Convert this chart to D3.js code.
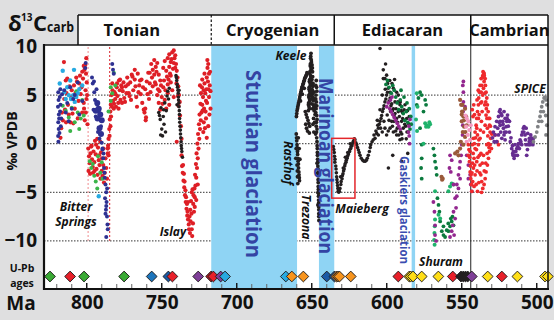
<!DOCTYPE html>
<html><head><meta charset="utf-8">
<script src="https://cdn.jsdelivr.net/npm/d3@7"></script>
<style>
html,body{margin:0;padding:0;background:#dfdfe0;}
svg{display:block;font-family:"Open Sans",sans-serif;}
</style></head><body>
<svg id="chart" width="554" height="325"></svg>
<script>
// ---- Periods, glaciations and axis ticks ----
const periodNames = ["Tonian", "Cryogenian", "Ediacaran", "Cambrian"];
const periodStarts = [823, 717, 635, 544];
const periodEnds = [717, 635, 544, 492.5];
const glaciationNames = ["Sturtian glaciation", "Marinoan glaciation", "Gaskiers glaciation"];
const glaciationStarts = [717, 645.2, 583.4];
const glaciationEnds = [659.8, 635, 581.1];
const ageTicks = [800, 750, 700, 650, 600, 550, 500];
const deltaTicks = [10, 5, 0, -5, -10];
const bitterSpringsBounds = [799.1, 784.7];

// ---- δ13C compilations: [age Ma, δ13C ‰] ----
const tonianNavy = [[819,5.3],[818.8,4.5],[819.2,3.8],[818.6,3],[819,2.2],[818.7,1.5],[819.1,0.8],[818.9,0.2],[818,4.8],[817.5,4],[817.8,3.3],[817,2.6],[817.3,1.8],[816.5,5.1],
[815,5.5],[813,4.2],[811,5.8],[810,3.6],[808,5],[806,6.3],[805,3],[803,4.4],[801,7.8],[800.7,8.3],[814,3.2],[812,2.3],[809,4.6],
[796,6.2],[795,5.3],[794.5,4.5],[795.5,3.5],[794,2.8],[793,4],[792,3.3],[791,2.5],[790.5,1.8],[792.5,1.2],[791.5,0.5],[790,0.1],[789.5,-0.6],[793.5,5.6],[796.5,6.8],[795.2,6.4],
[789.5,-0.5],[789,-1.5],[788.5,-2.5],[788,-3.5],[787.5,-4.2],[787,-5],[786.8,-6],[787.2,-6.8],[786.5,-7.5],[786.2,-8.3],[786,-8.8],[787.5,-7.2],[787,-9.6],
[783,8.2],[782.5,7.6],[782,7.2],[818.4,2.6],[818.2,1.1],[817.6,5.6],[788.8,-1],[788.2,-3],[787.8,-5.6],[787,-6.4],[786.4,-4.6]];
const tonianNavyLarge = [[793,4.2],[792,3.6],[791,3],[790,2.4],[791.5,1.6],[790.5,1],[792.8,2.6],[794,3.4]];
const tonianCyan = [[818,6.2],[815,5.3],[813,5.8],[811,6.5],[809,5],[807,4.8],[805,5.6],[803,6],[808,4.3],[810.5,4.6],[816,7.5],[814,4.6],[808.5,7.6],[812,5],[806,5.2],[792,-5.4]];
const tonianGreen = [[814,3.4],[812,2.7],[810,3.7],[808,2.2],[806,3.2],[804,2.6],[805,1.5],[811,1.3],[803,4.5],[807,5.4],[798,-1.8],[797,-2.5],[796,-2.1],[795,-3.3],[794,-3.9],[793,-4.6],[791,-3],[789.5,-3.6],[792.5,-1.3],[790,-1.9],[784,4.4],[783,5.2],[782,7.3],[781,6],[784,5.8],[785.5,3.3],[816,3.9],[802,2.9]];
const tonianRed = [
[815,4.6],[814.5,3.5],[813.5,5.2],[812.5,4],[811.5,5.9],[810.5,4.8],[809.5,3.1],[808.5,6],[807.5,5.2],[806.5,6.4],[805.5,4.4],[804.5,7],[803.5,5.8],[802.5,6.7],[801.5,7.6],[801,8.1],[800.5,7.2],[800,6.3],[802,4.2],[803,3.2],[806,2.6],[809,2.1],[812,3],[804,5.1],[800.8,5.5],[800.2,4.6],[801.8,3.6],[817,1.6],[816,2.4],[815.2,8.4],[814,6.5],[813,6.7],
[810,5.5],[807,6.8],[805,6.2],[803,7.4],[802,8],[800.3,8.8],[800.6,3.2],[801.3,2.4],[799.8,5],[799.5,2],[808,3.6],[811,2.2],[813.8,2.2],[816.5,3.2],[817.5,0.6],
[799,-0.5],[798.5,-1.3],[798,-2],[797.5,-1],[797,-0.3],[796.5,-1.6],[796,-2.4],[795.5,-0.8],[795,-1.9],[794.5,0.3],[794,-1.1],[793.5,-2.6],[793,0.5],[792.5,-0.4],[792,-1.7],[791.5,-2.2],[791,0.2],[790.5,-0.9],[790,-2.8],[789.5,-3.3],[789,-2.2],[788.5,-4],[788,-3],[787.5,-1.5],[787,-2.5],[786.5,-3.6],[786,-0.5],[785.5,-1.2],
[798.8,-2.8],[797.8,-3.1],[796.8,-0.2],[795.8,-3],[794.8,-2.8],[793.8,-0.1],[792.8,-3.2],[791.8,-1.2],[790.8,-3.6],[789.8,-1.5],[788.8,-0.5],
[785.5,0.5],[785,1.5],[784.6,2.5],[784.3,3.3],[784,4],[783.5,5],[783,6.2],[782.5,4.4],[782,3.6],[781.5,5.3],[781,4.6],[780.5,3.8],[780,5.8],[779.5,4.9],[779,4.2],[778.5,6.5],[778,5.5],[777.5,4.5],[786,-1],[785.8,-0.2],
[784.8,0.8],[784.2,1.8],[783.8,2.8],[783.2,3.8],[782.8,5.5],[781.8,4.1],[780.8,5.1],[779.8,6.2],[778.8,3.6],[777.8,6.6],[776.5,4.2],
[777,6],[776,5.4],[775,4.7],[774,5.9],[773,6.8],[772,5.2],[771,6.3],[770,7.1],[769,5.5],[768,6.6],[767,4.8],[766,7.2],[765,6],[764,5.1],[763,4.2],[762,3.5],[761,5.6],[760,6.4],[759,7.3],[758,6.2],[757.5,5.3],[774.5,4.3],[770.5,4.5],[766.5,3.8],[763.5,6.6],[760.5,2.7],[761.5,3.2],[768,7.6],[761,3.6],[760.7,2.4],
[776.5,5.8],[775.5,6.3],[773.5,5.2],[772.5,6.1],[771.5,4.9],[769.5,6.9],[767.5,5.9],[765.5,5.3],[764.5,6.5],[762.5,5.8],[759.5,5.1],[758.5,4.6],
[758,7.3],[757,8.2],[756,7.6],[755,8.6],[754,7.9],[753,8.3],[752,7.1],[751,6.5],[756.5,6.8],[754.5,6.3],[752.5,5.6],[756,5.9],[755,7.1],[754,6.1],[753.5,7.4],[751.5,5.4],[750.5,6],
[753,5],[752,4.2],[751,3.5],[750,4.8],[749,5.8],[748,4.5],[747,3.6],[746,5.2],[745,4],[744,6.3],[743,5.5],[742,4.8],[748.5,6.5],[746.5,6.9],[749.5,4.1],[747.5,5.5],[746,6.1],
[749,7.8],[748,8.5],[747,7.5],[746,8.8],[745,9.2],[744,8.4],[743,9.4],[742,9.6],[741.5,8.8],[741,9.1],[740.5,8.2],[740,7.5],[739.5,6.8],[739,5.9],[738.5,5],[738,4.3],[744.5,7.2],[742.5,7.7],[745.5,6.6],
[745,7.9],[744,7],[743.5,8.7],[742,8.3],[741,7.8],[740.2,6.2],[739.2,4.9],[738.8,3.9],[737.8,2.9],[737.2,1.8],[736.8,0.5],
[740,0.2],[736.5,-2.3],[736,-3],[735.5,-3.8],[735,-4.5],[734.5,-5.3],[734,-6],[733.5,-6.7],[733,-7.4],[732.5,-7.8],[732,-8.3],[731.5,-7.5],[731,-6.8],[730.5,-5.9],[730,-5],[729.5,-4.7],[729,-6.2],[728.5,-7],[728,-5.5],[727.5,-4.3],[729.7,-9.5],[730,-8.8],[732.5,-6],
[736.8,-1.2],[735.8,-2.2],[735.2,-3.1],[734.8,-3.9],[734.2,-4.8],[733.8,-5.5],[733.2,-6.2],[732.8,-7],[731.8,-8.8],[731.2,-9.2],[730.8,-8],[730.2,-7.2],[729.2,-8.2],[728.8,-5.3],[728.2,-4.6],
[727,-3.5],[726.5,-2.5],[726,-1.5],[725.5,-0.5],[725,0.5],[724.5,1.5],[724,2.4],[723.5,3.2],[723,4],[722.5,4.8],[722,5.5],[721.5,6.2],[721,5.2],[720.5,4.4],[720,6.8],[719.5,7.8],[719,8.2],[718.5,7.2],[718,6],[717.5,5.4],[721.8,3.6],[722.3,1.2],[726,-4.2],[720.5,2.6],[718.5,4.8],[724.5,6],[723,6.6],[717.5,3.6],[719,1.8],[720,0.6],[728,-6.5],[727,-5.8],
[727.8,-3.2],[727.2,-2.1],[726.8,-1],[726.2,0],[725.8,1],[725.2,2],[724.8,3],[724.2,4.1],[723.8,5.2],[723.2,5.8],[722.8,3.4],[722,2.2],[721.2,1.6],[720.8,3.3],[720.2,5.6],[719.8,4.2],[719.2,6.4],[718.8,5.6],[718.2,3],[717.8,7.4],[719.6,8.6],[721.5,7.2]];
const tonianBlack = [[752,3.2],[751,2.5],[750.5,3.7],[750,1.5],[749.5,0.8],[749,2.8],[748,4.2],[747,3.4],[746,5.4],[745.5,4.6],[745,5.7],[748.5,2],[747.5,1.2],[750.7,0.9],
[740.5,7],[740,6.5],[739.5,5.8],[739,5.2],[738.8,4.5],[738.5,3.8],[738.2,3],[738,2.2],[737.6,1.4],[737.3,0.6],[737,-0.2],[736.6,-0.8],[736.2,-1.4],[739.8,4],[738.5,5.5],
[740.2,6.8],[739.7,6.1],[739.2,5.5],[738.9,4.8],[738.6,4.2],[738.3,3.4],[738.1,2.6],[737.8,1.8],[737.5,1],[737.1,0.2],[736.8,-0.5],[748.8,3.5],[746.5,4.9],[751.5,2.9]];
const cryogenianBlack = [
[650.5,9.3],[650.8,8.8],[650.2,8.4],[651,8],[650.4,7.6],[651.3,7.2],[650.6,6.8],[651.6,6.4],[650.9,6],[651.8,5.6],[651.1,5.2],[652,4.8],[651.4,4.4],[652.2,4],[651.6,3.6],[649.8,8.1],[649.5,7.4],[649.9,6.6],[649.3,5.9],[649.7,5.1],[649,4.4],[648.7,3.7],[650.2,4.9],[650,5.6],[648.5,5.3],[648,4.6],[648.2,3.8],[647.8,3],[648.8,2.6],[647.6,2.2],
[650.7,9],[650.3,8.6],[650.9,8.2],[650.5,7.8],[651.2,7.4],[650.8,7],[651.4,6.6],[651,6.2],[651.7,5.8],[651.3,5.4],[651.9,5],[651.5,4.6],[652.1,4.2],[651.8,3.8],[652.3,3.4],[649.6,7.8],[649.4,6.9],[649.1,6.2],[649.6,5.5],[649.2,4.8],[648.9,4],[648.4,3.4],[650.4,6.3],[650.1,5.3],[649.8,4.6],[650.3,4.1],[649.4,3.6],
[659.8,3.4],[659.3,3.8],[658.8,4.2],[658.2,4.6],[657.7,5],[657.1,5.4],[656.5,5.8],[655.9,6.1],[655.3,6.4],[654.7,6.7],[654.1,6.9],[653.5,7.1],[657.5,4.4],[656.3,5.1],[655,5.7],
[659.5,3.6],[659,4],[658.5,4.4],[658,4.8],[657.4,5.2],[656.8,5.6],[656.2,5.9],[655.6,6.2],[655,6.5],[654.4,6.8],[653.8,7],[653.2,7.3],[660,3.1],[660.2,2.8],
[654.3,3.3],[653.7,3],[653.1,2.7],[652.5,2.4],[651.9,2.1],[651.4,1.8],[653.5,1.6],[652.8,1.3],[654,2],[651.6,1.1],
[660.3,1],[660,0.3],[659.7,-0.4],[659.4,-1.1],[659.1,-1.8],[658.8,-2.5],[658.5,-3.2],[658.2,-3.8],[659,0.6],[658.4,-0.5],[657.9,-1.6],[659.6,-2.8],[659.3,-4.1],
[660.1,0.6],[659.8,-0.1],[659.5,-0.8],[659.2,-1.5],[658.9,-2.1],[658.6,-2.9],[658.3,-3.5],[660.4,-0.5],[660.6,-1.5],[659.8,-2.2],[659.5,-3.4],
[647,6.5],[646.8,5.8],[647.2,5],[646.9,4.3],[647.1,3.6],[646.7,2.9],[646.9,2.2],[646.5,1.5],[647.4,1],[649.2,2],[648.6,1.2],
[647.3,6],[646.6,5.4],[647.3,4.6],[646.6,3.9],[647.3,3.2],[646.5,2.5],[647,1.8],[647.6,4],[648.1,2.2],
[646.5,0.2],[646.3,-0.5],[646.2,-1.2],[646,-1.9],[645.9,-2.6],[645.8,-3.3],[645.7,-4],[645.6,-4.7],[645.5,-5.4],[645.4,-6.1],[645.3,-6.8],[645.3,-7.5],[646,-3],[645.8,-5],[646.4,-2],[645.9,-6.3],
[646.4,-0.2],[646.25,-0.9],[646.1,-1.6],[645.95,-2.3],[645.85,-3],[645.75,-3.7],[645.65,-4.4],[645.55,-5.1],[645.45,-5.8],[645.35,-6.5],[645.3,-7.2],[645.2,-7.9],[646.7,0.6],[646.8,1.2]];
const ediacaranBlack = [
[635.6,-0.3],[635,-0.9],[634.5,-1.6],[634,-2.3],[633.6,-3],[633.2,-3.7],[632.8,-4.3],[632.4,-4.9],[634.8,-1.3],[633.8,-2.6],[633,-4],
[635.3,-0.6],[634.6,-1.9],[633.4,-3.4],[632.6,-4.6],[632,-5],[631.6,-4.9],
[631.2,-4.6],[630.4,-3.9],[629.6,-3.3],[628.8,-2.8],[628,-2.3],[627.2,-1.9],[626.4,-1.5],[625.6,-1.1],[624.8,-0.8],[624,-0.5],[623.2,-0.2],[622.4,0.2],[630.8,-3.4],[629,-2.5],[627.6,-1.4],[626,-0.9],[624.4,0],
[630.6,-4.2],[629.8,-3.6],[629.2,-3.1],[628.4,-2.6],[627.8,-2.1],[627,-1.7],[626.2,-1.3],[625.4,-0.9],[624.6,-0.6],[623.8,-0.3],[623,0],[622,0.3],[621.6,0.5],
[621.2,0.4],[620,-0.1],[618.9,-0.65],[617.8,-1.2],[616,-1.7],[614.3,-1.8],[613,-1.5],[611.6,-0.8],[610.7,-0.1],[609.8,0.2],
[620.6,0.1],[619.5,-0.4],[618.4,-0.9],[617,-1.5],[615.2,-1.8],[613.6,-1.7],[612.3,-1.2],[611,-0.4],[609,0.4],
[607.8,0.55],[606.7,1.06],[605.6,1.6],[604.5,2.3],[603.4,2.9],[602.3,3.6],[601.2,4.3],[600.1,5],[599,5.7],[601.2,6.7],[600.1,7.05],[602.3,7.6],[604.5,9.8],
[608.5,0.9],[607.2,1.3],[606,1.9],[605,2],[603.8,2.6],[602.8,3.3],[601.8,3.9],[600.6,4.6],[599.5,5.3],[598.4,4.4],[597.2,3.9],[596.2,3.4],[594.9,2.8],[593.8,3.6],[592.8,2.2],[591.6,2.8],[590.4,3.4],[589.4,2.6],[588.4,3.5],[587.4,1.8],[586.2,3.4],[585.2,2],
[597.8,4.7],[596.7,4.1],[595.6,3.6],[594.5,3.1],[593.4,2.6],[592.3,3.3],[591.2,4],[590.1,2.3],[589,1.6],[587.8,4],[586.7,2.6],[585.6,1.2],[598.9,-2.5],
[606.3,2.4],[604.1,1.6],[601.9,2.3],[599.7,2.95],[597.4,3.3],[595.2,2.3],[593,1.6],[590.7,1.2],[600.1,0.9],[597.8,1.6],[595.6,1.2],[593.4,0.9],[591.2,0.4],[605.6,0.9],[601.2,1.6],[596.7,2.3],[594.5,4.3],[592.3,5],[597.8,5.3],[595.6,5.7],[593.4,5.3],[602.3,6.7],
[598.5,2.4],[596.2,1.8],[594,1.3],[592,0.9],[589.8,0.5],[603,1.2],[599,1.3],[604.5,3.5],[603,5],[601,5.6],[599.4,6.2],[598,6.5],[596.5,6.2],[594.8,6.6],[592.6,4.3],[600.8,8.2],[596,-1.2],[590.2,-1.8],[586,-1],
[591,4.3],[589.5,3.2],[588,2],[586.5,1.2],[585,2.8],[590,1],[587,0.5]];
const ediacaranPurple = [[600,3.8],[599,4.2],[598,3.6],[597,3.3],[596,3.0],[595,2.7],[594,2.4],[593,2.1],[592,1.8],[591,1.5],[597.5,4.5],[596.5,4.8],[585.5,1.2],[585,0.8],[584.8,0],[585.2,1.8],[584.5,2.5]];
const ediacaranDarkGreen = [[600.5,6.1],[599.5,6.5],[598.5,5.8],[597,5.2],[596,6],[595,5.5],[594,4.8],[593,4.2],[592,3.5],[591,4.5],[590,3.8],[589,3.1],[588,2.4],[587,3.3],[586,2.2],[585,3.6],[584,2.8],[590.5,5.5],[588.5,4.8],[586.5,4.2],[584.5,1.5],[583.7,2],
[577.8,5.3],[576.7,5],[578.9,4.7],[574.4,4.5],[573.8,4],[575.5,3.3],[580,4],[577.8,1.6],[576.7,-0.1],[576.7,-1.5],[577.1,-2.5],[576.7,-3.6],[568.9,-0.5],[568.2,-1.2],[567.8,-1.85],[567.1,-2.5],[566.7,-3.2],
[566.2,-5.6],[565.5,-6.3],[564.9,-7],[564.4,-8],[563.3,-9],[562.2,-9.4],[560,-8.9],[557.8,-8.5],[556.7,-8],[558.9,-9],[561.1,-9.6],[556.2,-7.5],[557.3,-7.7],[562.2,-8.5],[555.5,-8.4],[559,-8.2]];
const ediacaranLightGreen = [[574.4,2.1],[573.3,1.9],[572.2,1.75],[571.1,2],[573.8,1.75],[571.6,2.2],[575.5,0],[567.8,-4.9],[565.5,-7.3],[564.4,-7.7],[558.9,-4.9],[557.8,-4.4],[556.7,-4.1],[555.5,-4.2],
[580,5.2],[579.5,3.8],[580.5,2.5],[579.8,1.3],[568,-8.5],[568.2,-9.2],[568.4,-9.9],[568.1,-10.4],[567.8,-7.8]];
const shuramPurple = [[568.9,-6],[568.2,-7],[567.8,-8.4],[567.8,-9.4],[567.1,-10],[557.8,-1.2],[556.7,-1.7],[558.2,-2.5],[557.3,-2.9],[555.5,-4.2],[554.4,-5.6],[555.5,-7],[556,-8.4],[555.1,-9.4],
[553.3,-4.2],[552.2,-3.2],[551.5,-2.5],[551.1,-1.85],[550.4,-1.2],[550,-0.1],[549.5,0.9],[549.3,1.9],[549.1,3.3],[548.9,4.3],[548.9,5.3],[548.9,6.4],[549.3,6],[547.8,3.8],
[546.7,-1.2],[545.6,-2.2],[544.4,-3.2],[544,-4.2],[543.3,-4.9],[545.6,-3.6],[551.1,-3.6],[553.3,-5.4],[552.2,-4.6],[554.4,-7.7],[553.8,-6.6],[556.7,-9],[557.8,-9.6]];
const ediacaranBrown = [[551.1,4.5],[550.4,4],[549.8,3.3],[548.9,2.8],[550,2.3],[548.4,1.75],[549.3,1.2],[547.8,0.7],[550.6,0.2],[548.9,-0.1],[551.1,-0.5],[552.9,-0.8],[554.4,-1],[552.2,-1.2],[547.8,3.6],[547.1,2.8],[546.7,1.9],[547.6,1.2],[563.5,-3.4],[563.1,-3.7],[562.7,-3.6],[550,3],[548.5,2.4],[549.5,4]];
const ediacaranPink = [[547.5,2.9],[546.7,2.6],[545.6,2.3],[547.1,1.75],[544.9,1.4],[546,0.9],[544.4,0.4],[546.7,0.2],[544,1.9]];
const cambrianRed = [[545.6,-1.2],[544.9,-1.85],[544.4,-2.9],[544,-3.6],[543.5,-4.2],[543.3,-4.9],[542.7,-3.9],[542.2,-2.5],[541.8,-1.5],[541.1,-0.5],[545.6,-0.1],[544.4,-0.8],[542.9,-0.1],[542.2,0.55],[541.1,1.2],[540.4,1.9],[540,2.6],[539.5,3.3],[538.9,4],[538.7,4.7],[538.2,5.3],[537.8,6],[537.1,6.7],[536,7],[535.1,7.2],
[534.4,6.7],[534.2,6],[533.8,5.3],[533.3,4.7],[532.9,4],[532.4,3.3],[532,2.6],[531.5,1.9],[531.1,1.2],[530.7,0.55],[531.1,-0.1],[531.5,-0.8],[532.2,-1.5],[532.9,-2.2],[533.8,-2.9],[534.4,-3.6],[535.1,-4.2],[536,-4.6],[536.7,-3.9],[537.3,-3.2],[537.8,-2.2],[538.2,-1.2],[538.9,-0.1],[539.5,0.9],[540,1.6],
[536.7,4.3],[536,5],[535.5,5.7],[535.1,6.4],[536.4,3.3],[536.9,2.3],[535.5,1.2],[534.4,1.9],[533.8,2.95],[534.7,4],[537.8,0.55],[540,-1.85],[541.1,-3.2],[540.4,-4.2],[539.5,-4.9],[541.8,-4.4],[535.5,-1.2],[533.3,-0.1],[538.9,2.6],[532.9,1.6],[543,3.5],[542.5,2.8],[527.8,0.9],[526.5,0.2],[525.5,-0.1],
[545.2,-0.6],[544.7,-1.4],[544.2,-2.3],[543.8,-3.2],[543.2,-3],[542.8,-2],[542.4,-1],[541.6,0],[541.4,-2.2],[540.8,0.6],[540.2,-0.6],[539.8,-2.8],[539.2,-1.4],[538.6,0.4],[538.4,3],[537.6,1.4],[537.4,4.2],[537,5.3],[536.6,6],[536.2,6.8],[535.8,7.4],[535.4,7.3],[535,7.0],[534.6,5.2],[534,4.3],[533.6,3.6],[533.2,2.6],[532.6,0.8],[532.2,0],[531.8,-0.4],[531.4,2.6],[530.9,1.8],[533.1,-1],[534,-2],[535,-2.8],[536.3,-2],[537.2,-1],[538,-3],[538.6,-4],[536.8,-5],[542,4],[541.5,3],[539,5.5],[539.8,4.5],[530.2,-0.5],[530,1]];
const cambrianPurple = [[528.9,1.2],[527.8,1.75],[526.7,2.3],[525.5,2.8],[524.9,3.3],[524.4,3.5],[523.3,2.9],[522.7,2.3],[522.2,1.6],[521.8,0.9],[521.1,0.4],[520.4,1.2],[520,2.3],[519.5,2.95],[518.9,2.4],[518.2,1.2],[517.6,0.2],[516.7,-0.5],[516,-1],[515.1,-1.5],[514.5,-1.2],[513.3,-0.5],[512.2,0],[511.1,0.4],[510,0.9],[508.9,1.6],[508.4,1.75],[507.8,0.9],[507.1,-0.1],[506.7,-1.2],[505.5,-0.1],[504.9,0.55],[504,0.9],[503.3,0.4],[502.2,0.55],
[514.5,-0.1],[515.5,-0.8],[512.9,-1.2],[511.6,-0.5],[510.6,0.2],[510,-0.1],[524.4,2.3],[524,1.2],[523.3,0.55],[525.5,0.9],[526.7,0.2],[521.1,2.6],[520.4,1.75],[518.2,2.3],[527.8,0.9],[528.4,0.2],[507.1,1.6],[506,1.06],[504.4,-0.1],[502.6,-0.1],[524.4,1.9],[521.8,3.3],
[523.8,3.1],[522.5,2],[521.5,1.2],[519.8,2.6],[519,1.8],[517.2,0.6],[516.2,-0.2],[515.8,-1.2],[514,-0.8],[512.6,-0.3],[511.4,0],[509.5,1.2],[508.6,1.2],[507.5,0.4],[506.2,-0.6],[505,0.2],[503.8,0.6],[502.8,0.2],[529.5,0.6],[526,1.6],[525,2.2]];
const cambrianGray = [[502.2,0.2],[501.1,0.7],[500,1.2],[499.3,1.75],[498.6,2.3],[497.8,2.8],[497.3,3.3],[496.7,3.8],[496,4.3],[495.1,4.7],[494.4,4.8],[493.8,4.5],[493.3,4],[494,2.9],[493.3,1.9],[493.8,0.9],[495.6,3.3],[496.7,2.3]];

// ---- U-Pb age constraints ----
const uPbAges = [824.5, 811.1, 801.8, 775.1, 756.7, 745.6, 742.9, 725.7, 717.1, 715.6, 710.7, 707.8,
  667.3, 663.3, 655.6, 640, 634.9, 633.6, 632.5, 631.5, 624,
  592.3, 585, 584, 582.5, 576.7, 565.6, 556, 550.5, 549, 547.5, 546, 543.3, 532.7, 523.3, 512.9, 494.5, 492.6];
const uPbKinds = ["green","red","green","green","blue","navy","red","purple","darkred","red","purple","cyan",
  "cyan","orange","orange","navy","navy","orange","orange","orange","orange",
  "red","yellow","yellow","yellow","yellow","yellow","red","black","black","black","black","purple","yellow","red","yellow","yellow","yellow"];

const uPbColors = {green:"#3aaa35", red:"#e8202a", darkred:"#b0181e", blue:"#1c75bc", navy:"#1b5aa6", purple:"#7f3f98",
  cyan:"#27aae1", orange:"#f7941d", yellow:"#ffde17", black:"#231f20"};

const svg = d3.select("#chart");
const W = 554, H = 325;
const pL = 44, pR = 548, pT = 45, pB = 289;

const x = d3.scaleLinear().domain([828.5, 492.5]).range([pL, pR]);
const y = d3.scaleLinear().domain([0, -10]).range([143.7, 240.9]);

// backgrounds
svg.append("rect").attr("width", W).attr("height", H).attr("fill", "#dfdfe0");
svg.append("rect").attr("x", 0).attr("y", 320).attr("width", W).attr("height", 5).attr("fill", "#fff");
svg.append("rect").attr("x", 78).attr("y", 15).attr("width", pR - 78).attr("height", pT - 15).attr("fill", "#fff");
svg.append("rect").attr("x", pL).attr("y", pT).attr("width", pR - pL).attr("height", pB - pT).attr("fill", "#fff");

// horizontal dotted reference lines
svg.append("g").selectAll("line").data(deltaTicks.filter(d => d < 10)).join("line")
  .attr("x1", pL).attr("x2", pR)
  .attr("y1", d => y(d)).attr("y2", d => y(d))
  .attr("stroke", "#333").attr("stroke-width", 1).attr("stroke-dasharray", "1.5,1.5");

// glaciation bands
const glac = glaciationNames.map((n, i) => ({name: n, a: glaciationStarts[i], b: glaciationEnds[i]}));
svg.append("g").selectAll("rect").data(glac).join("rect")
  .attr("x", d => x(d.a)).attr("width", d => x(d.b) - x(d.a))
  .attr("y", pT + 1).attr("height", pB - pT - 1)
  .attr("fill", "#8fd4f4");

// Bitter Springs bounds
svg.append("g").selectAll("line").data(bitterSpringsBounds).join("line")
  .attr("x1", d => x(d)).attr("x2", d => x(d))
  .attr("y1", pT + 2).attr("y2", y(-10))
  .attr("stroke", (d, i) => i === 0 ? "#f08a8e" : "#d9232b")
  .attr("stroke-width", 1).attr("stroke-dasharray", "2,2");

// Ediacaran / Cambrian boundary
svg.append("line").attr("x1", x(544)).attr("x2", x(544)).attr("y1", pT).attr("y2", pB)
  .attr("stroke", "#222").attr("stroke-width", 1);

// data points
const dots = svg.append("g");
function plot(data, color, r) {
  dots.append("g").selectAll("circle").data(data).join("circle")
    .attr("cx", d => x(d[0])).attr("cy", d => y(d[1])).attr("r", r).attr("fill", color);
}
plot(tonianRed, "#de1f26", 2.1);
plot(tonianGreen, "#3bb54a", 2);
plot(tonianCyan, "#27aae1", 2.2);
plot(tonianNavy, "#2e3192", 2);
plot(tonianNavyLarge, "#2e3192", 3);
plot(tonianBlack, "#231f20", 1.8);
plot(cryogenianBlack, "#231f20", 1.9);
plot(ediacaranBlack, "#231f20", 1.8);
plot(ediacaranDarkGreen, "#0b7a3e", 1.9);
plot(ediacaranPurple, "#93278f", 1.9);
plot(ediacaranLightGreen, "#20b36c", 2);
plot(shuramPurple, "#93278f", 1.9);
plot(ediacaranBrown, "#9a5a3a", 2.1);
plot(ediacaranPink, "#f49ac1", 2.1);
plot(cambrianRed, "#ef2a2d", 1.9);
plot(cambrianPurple, "#662d91", 1.9);
plot(cambrianGray, "#808285", 1.9);

// Maieberg highlight box
svg.append("rect").attr("x", x(636.7)).attr("y", y(0.55))
  .attr("width", x(621.2) - x(636.7)).attr("height", y(-5.6) - y(0.55))
  .attr("fill", "none").attr("stroke", "#e3262b").attr("stroke-width", 1.5);

// glaciation labels
const glacFont = [21, 20, 13];
const glacLen = [188, 176, 108];
const glacColor = ["#3444a4", "#3444a4", "#3a4db0"];
const glacOffset = [0, 0, -8];
const glacMid = [164, 166, 210];
svg.append("g").selectAll("text").data(glac).join("text")
  .attr("transform", (d, i) => `translate(${(x(d.a) + x(d.b)) / 2 + glacOffset[i]},${glacMid[i]}) rotate(90)`)
  .attr("text-anchor", "middle").attr("dominant-baseline", "central")
  .attr("font-size", (d, i) => glacFont[i]).attr("fill", (d, i) => glacColor[i])
  .attr("font-weight", 700)
  .attr("textLength", (d, i) => glacLen[i]).attr("lengthAdjust", "spacingAndGlyphs")
  .text(d => d.name);

// event labels
const notes = [
  {t: "Bitter", px: 76, py: 206, rot: 0},
  {t: "Springs", px: 76, py: 221, rot: 0},
  {t: "Islay", px: 173, py: 231, rot: 0},
  {t: "Keele", px: 291, py: 55, rot: 0},
  {t: "Rasthof", px: 288, py: 163, rot: 90},
  {t: "Trezona", px: 306.5, py: 217, rot: 90},
  {t: "Maieberg", px: 362, py: 208, rot: 0},
  {t: "Shuram", px: 441, py: 261, rot: 0},
  {t: "SPICE", px: 530, py: 88, rot: 0}
];
svg.append("g").selectAll("text").data(notes).join("text")
  .attr("transform", d => `translate(${d.px},${d.py}) rotate(${d.rot})`)
  .attr("text-anchor", "middle").attr("dominant-baseline", "central")
  .attr("font-size", 12).attr("font-weight", 700).attr("font-style", "italic")
  .attr("fill", "#111").text(d => d.t);

// U-Pb diamonds
const diamond = d3.symbol().type(d3.symbolSquare).size(58);
svg.append("g").selectAll("path").data(uPbAges.map((a, i) => ({a, k: uPbKinds[i]}))).join("path")
  .attr("d", diamond)
  .attr("transform", d => `translate(${x(d.a)},276.5) rotate(45)`)
  .attr("fill", d => uPbColors[d.k]).attr("stroke", "#231f20").attr("stroke-width", 0.9);

// age tick marks
const minor = d3.range(820, 495, -10);
svg.append("g").selectAll("line").data(minor).join("line")
  .attr("x1", d => x(d)).attr("x2", d => x(d))
  .attr("y1", d => d % 50 === 0 ? 283 : 284).attr("y2", pB)
  .attr("stroke", d => d % 50 === 0 ? "#111" : "#666").attr("stroke-width", d => d % 50 === 0 ? 1.4 : 1);

// frame
const frame = svg.append("g").attr("stroke", "#111").attr("fill", "none");
frame.append("line").attr("x1", pL).attr("x2", pR + 1).attr("y1", pB).attr("y2", pB).attr("stroke-width", 2.2);
frame.append("line").attr("x1", pL).attr("x2", pL).attr("y1", pT - 1).attr("y2", pB + 1).attr("stroke-width", 2.2);
frame.append("line").attr("x1", pL).attr("x2", pR).attr("y1", pT).attr("y2", pT).attr("stroke-width", 1.5);
frame.append("line").attr("x1", 78).attr("x2", pR).attr("y1", 15).attr("y2", 15).attr("stroke-width", 1.5);
frame.append("line").attr("x1", 78).attr("x2", 78).attr("y1", 15).attr("y2", pT).attr("stroke-width", 1.5);
frame.append("line").attr("x1", pR).attr("x2", pR).attr("y1", 15).attr("y2", pB).attr("stroke-width", 1.5);
frame.append("line").attr("x1", x(717)).attr("x2", x(717)).attr("y1", 15).attr("y2", pT)
  .attr("stroke-width", 1.2).attr("stroke-dasharray", "2.5,2");
[635, 544].forEach(m => frame.append("line").attr("x1", x(m)).attr("x2", x(m)).attr("y1", 15).attr("y2", pT).attr("stroke-width", 1.5));

// period names
svg.append("g").selectAll("text").data(periodNames).join("text")
  .attr("x", (d, i) => (x(periodStarts[i]) + x(periodEnds[i])) / 2).attr("y", 36)
  .attr("text-anchor", "middle").attr("font-size", 16.5).attr("font-weight", 700).attr("fill", "#111")
  .text(d => d);

// axes
const yAxis = svg.append("g").attr("transform", `translate(${pL},0)`)
  .call(d3.axisLeft(y).tickValues(deltaTicks).tickSize(0).tickPadding(7));
yAxis.select(".domain").remove();
yAxis.selectAll("text").attr("font-size", 19).attr("font-weight", 700).attr("fill", "#111")
  .attr("font-family", "'Open Sans',sans-serif");

const xAxis = svg.append("g").attr("transform", `translate(0,${pB})`)
  .call(d3.axisBottom(x).tickValues(ageTicks).tickSize(0).tickPadding(7));
xAxis.select(".domain").remove();
xAxis.selectAll("text").attr("font-size", 19).attr("font-weight", 700).attr("fill", "#111")
  .attr("font-family", "'Open Sans',sans-serif");

// side titles
svg.append("text").attr("x", 21).attr("y", 310).attr("text-anchor", "middle")
  .attr("font-size", 19).attr("font-weight", 700).attr("fill", "#111").text("Ma");
svg.append("text").attr("x", 22).attr("y", 271.5).attr("text-anchor", "middle")
  .attr("font-size", 10.5).attr("font-weight", 700).attr("fill", "#111").text("U-Pb");
svg.append("text").attr("x", 22).attr("y", 286.5).attr("text-anchor", "middle")
  .attr("font-size", 10.5).attr("font-weight", 700).attr("fill", "#111").text("ages");
svg.append("text").attr("transform", "translate(17,141) rotate(-90)").attr("text-anchor", "middle")
  .attr("font-size", 14).attr("font-weight", 700).attr("fill", "#111").text("‰ VPDB");

// δ13Ccarb heading, pieces placed individually to keep it compact
const head = svg.append("g").attr("fill", "#111").attr("font-weight", 700);
head.append("text").attr("x", 8).attr("y", 31).attr("font-size", 22).text("δ");
head.append("text").attr("x", 21).attr("y", 21).attr("font-size", 10).text("13");
head.append("text").attr("x", 33).attr("y", 31).attr("font-size", 22).text("C");
head.append("text").attr("x", 47).attr("y", 32).attr("font-size", 14).attr("textLength", 27)
  .attr("lengthAdjust", "spacingAndGlyphs").text("carb");
</script>
</body></html>
